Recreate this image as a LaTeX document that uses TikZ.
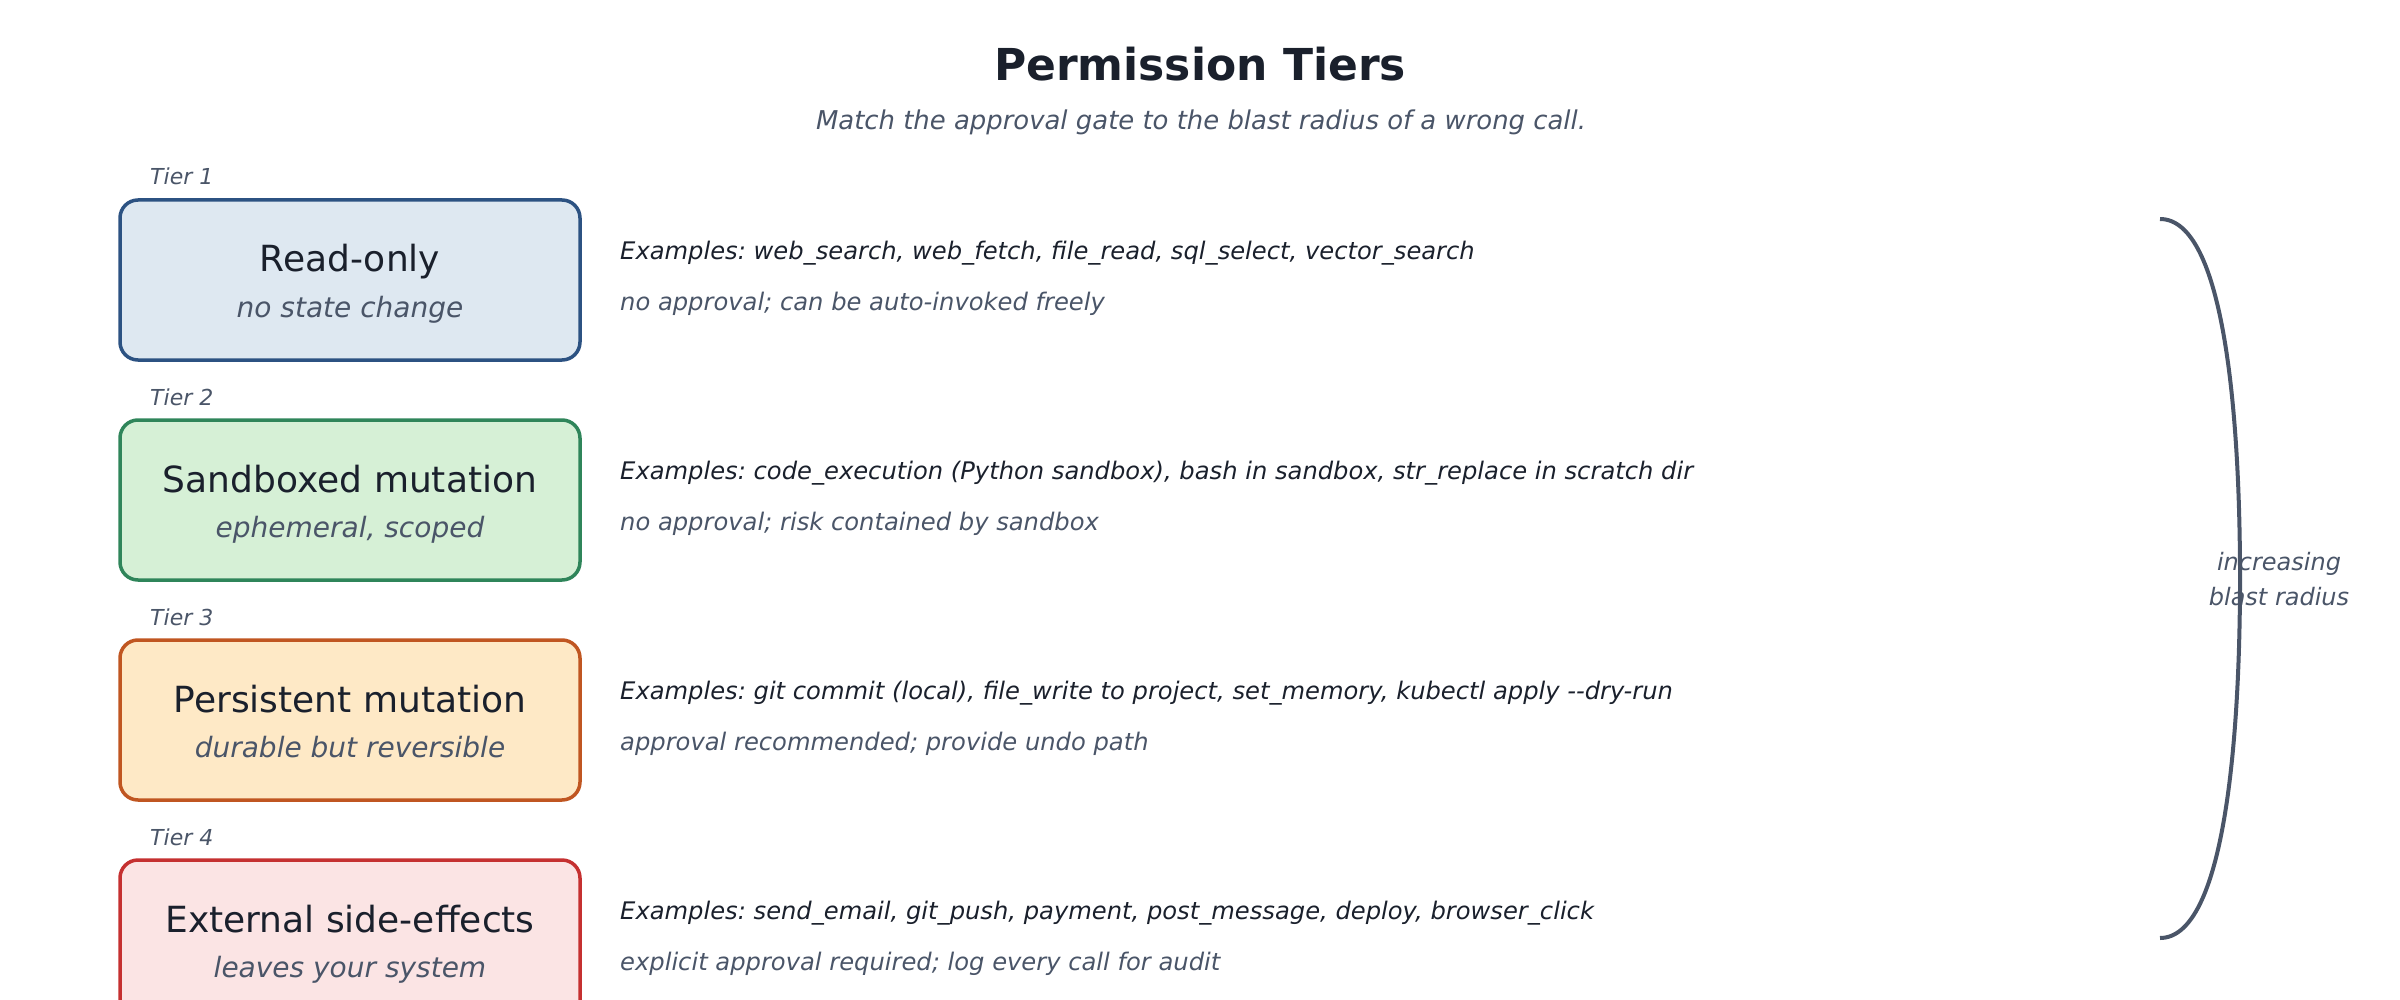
\documentclass[tikz,border=0pt]{standalone}
\usepackage{fontspec}
\setmainfont{DejaVu Sans}
\frenchspacing
\definecolor{titlec}{HTML}{1A202C}
\definecolor{subc}{HTML}{4A5568}
\definecolor{fillA}{HTML}{DEE8F1}
\definecolor{drawA}{HTML}{2C5282}
\definecolor{fillB}{HTML}{D6F0D6}
\definecolor{drawB}{HTML}{2F855A}
\definecolor{fillC}{HTML}{FEE9C6}
\definecolor{drawC}{HTML}{C05621}
\definecolor{fillD}{HTML}{FBE4E4}
\definecolor{drawD}{HTML}{C53030}
\begin{document}
\begin{tikzpicture}[x=1pt,y=-1pt,
  tierbox/.style={rectangle, rounded corners=18pt, line width=3.5pt,
    minimum width=460pt, minimum height=160pt, inner sep=0pt},
  maintext/.style={anchor=base, inner sep=0pt, text=titlec,
    font=\fontsize{36}{42}\selectfont\frenchspacing},
  subtext/.style={anchor=base, inner sep=0pt, text=subc,
    font=\fontsize{28}{34}\selectfont\itshape\frenchspacing},
  tierlabel/.style={anchor=base west, inner sep=0pt, text=subc,
    font=\fontsize{22}{26}\selectfont\itshape},
  extext/.style={anchor=base west, inner sep=0pt, text=titlec,
    font=\fontsize{24.2}{28}\selectfont\itshape\frenchspacing},
  notetext/.style={anchor=base west, inner sep=0pt, text=subc,
    font=\fontsize{24.2}{28}\selectfont\itshape\frenchspacing},
  bracket/.style={draw=subc, line width=4pt}
]
\useasboundingbox (0,0) rectangle (2400,1000);
\clip (0,0) rectangle (2400,1000);

\node[anchor=base, inner sep=0pt, text=titlec,
  font=\fontsize{44}{52}\selectfont\bfseries] (title) at (1200,81) {Permission Tiers};
\node[anchor=base, inner sep=0pt, text=subc,
  font=\fontsize{25.9}{30}\selectfont\itshape\frenchspacing] (subtitle) at (1201,130)
  {Match the approval gate to the blast radius of a wrong call.};

% Tier 1
\node[tierlabel] (t1) at (150,185) {Tier 1};
\node[tierbox, draw=drawA, fill=fillA] (b1) at (350,280) {};
\node[maintext] (m1) at (350,272) {Read-only};
\node[subtext] (s1) at (350,317) {no state change};
\node[extext] (e1) at (620,259) {Examples: web\_search, web\_fetch, file\_read, sql\_select, vector\_search};
\node[notetext] (n1) at (620,310) {no approval; can be auto-invoked freely};

% Tier 2
\node[tierlabel] (t2) at (150,405) {Tier 2};
\node[tierbox, draw=drawB, fill=fillB] (b2) at (350,500) {};
\node[maintext] (m2) at (350,492) {Sandboxed mutation};
\node[subtext] (s2) at (350,537) {ephemeral, scoped};
\node[extext] (e2) at (620,479) {Examples: code\_execution (Python sandbox), bash in sandbox, str\_replace in scratch dir};
\node[notetext] (n2) at (620,530) {no approval; risk contained by sandbox};

% Tier 3
\node[tierlabel] (t3) at (150,625) {Tier 3};
\node[tierbox, draw=drawC, fill=fillC] (b3) at (350,720) {};
\node[maintext] (m3) at (350,712) {Persistent mutation};
\node[subtext] (s3) at (350,757) {durable but reversible};
\node[extext] (e3) at (620,699) {Examples: git commit (local), file\_write to project, set\_memory, kubectl apply -\kern0pt-dry-run};
\node[notetext] (n3) at (620,750) {approval recommended; provide undo path};

% Tier 4
\node[tierlabel] (t4) at (150,845) {Tier 4};
\node[tierbox, draw=drawD, fill=fillD] (b4) at (350,940) {};
\node[maintext] (m4) at (350,932) {External side-effects};
\node[subtext] (s4) at (350,977) {leaves your system};
\node[extext] (e4) at (620,919) {Examples: send\_email, git\_push, payment, post\_message, deploy, browser\_click};
\node[notetext] (n4) at (620,970) {explicit approval required; log every call for audit};

% bracket
\coordinate (bt) at (2160,219);
\coordinate (bm) at (2240,578);
\coordinate (bb) at (2160,938);
\draw[bracket] (bt) .. controls (2225,219) and (2240,420) .. (bm)
  .. controls (2240,736) and (2225,938) .. (bb);
\node[align=center, inner sep=0pt, text=subc,
  font=\fontsize{24}{35}\selectfont\itshape] (blast) at (2279,579)
  {increasing\\blast radius};
\end{tikzpicture}
\end{document}
